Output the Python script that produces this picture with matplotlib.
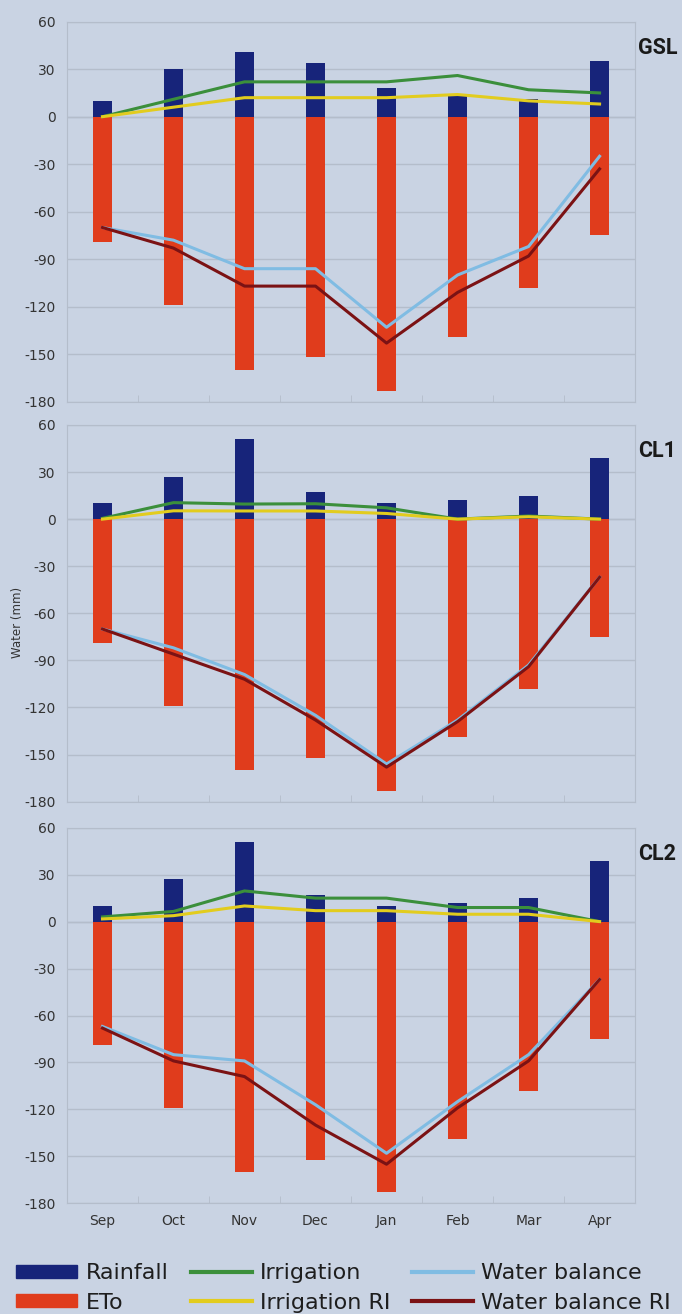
import numpy as np
import matplotlib
matplotlib.use('Agg')
from matplotlib import pyplot as plt
from matplotlib.patches import Patch
from matplotlib.lines import Line2D

months = ['Sep', 'Oct', 'Nov', 'Dec', 'Jan', 'Feb', 'Mar', 'Apr']
sites = ['GSL', 'CL1', 'CL2']

# ETo is the same at every site (drawn below zero)
eto = [-79, -119, -160, -152, -173, -139, -108, -75]

rain_gsl = [10, 30, 41, 34, 18, 13, 11, 35]
rain_cl = [10, 27, 51, 17, 10, 12, 15, 39]

irr_gsl = [0, 11, 22, 22, 22, 26, 17, 15]
irr_cl1 = [0.5, 10.5, 9.6, 9.8, 7.2, 0, 2, 0]
irr_cl2 = [3, 6.5, 19.6, 15, 15, 9, 9, 0]

irr_ri_gsl = [0, 6, 12, 12, 12, 14, 10, 8]
irr_ri_cl1 = [0, 5.3, 5.2, 5.2, 3.6, 0, 1.5, 0]
irr_ri_cl2 = [1.7, 3.8, 10, 7, 7, 4.7, 4.7, 0]

wb_gsl = [-70, -78, -96, -96, -133, -100, -82, -25]
wb_cl1 = [-70, -82, -99, -125, -156, -128, -93, -37]
wb_cl2 = [-67, -85, -89, -117, -148, -115, -85, -37]

wb_ri_gsl = [-70, -83, -107, -107, -143, -111, -88, -33]
wb_ri_cl1 = [-70, -86, -102, -128, -158, -129, -94, -37]
wb_ri_cl2 = [-68, -89, -99, -130, -155, -119, -89, -37]

rain = [rain_gsl, rain_cl, rain_cl]
irr = [irr_gsl, irr_cl1, irr_cl2]
irr_ri = [irr_ri_gsl, irr_ri_cl1, irr_ri_cl2]
wb = [wb_gsl, wb_cl1, wb_cl2]
wb_ri = [wb_ri_gsl, wb_ri_cl1, wb_ri_cl2]

bg = '#c9d3e3'
c_rain = '#17247a'
c_eto = '#e03c1c'
c_irr = '#3b8f3b'
c_irr_ri = '#e2cc1e'
c_wb = '#80bce3'
c_wb_ri = '#7b1214'
grid_c = '#b4bdcb'
txt_c = '#333333'

plt.rcParams['font.family'] = ['DejaVu Sans']
plt.rcParams['axes.unicode_minus'] = False

fig = plt.figure(figsize=(6.82, 13.14), dpi=100, facecolor=bg)

# axes boxes: left, bottom, width, height in figure fractions
boxes = [(0.0982, 0.6943, 0.833, 0.2892),
         (0.0982, 0.3899, 0.833, 0.2867),
         (0.0982, 0.0842, 0.833, 0.2859)]

x = np.arange(len(months))
bw = 0.26

for i, box in enumerate(boxes):
    ax = fig.add_axes(box)
    ax.set_facecolor(bg)
    ax.set_xlim(-0.5, len(months) - 0.5)
    ax.set_ylim(-180, 60)
    ax.set_yticks(np.arange(-180, 61, 30))
    ax.yaxis.grid(True, color=grid_c, linewidth=1.0)
    ax.set_axisbelow(True)
    for s in ax.spines.values():
        s.set_color(grid_c)
        s.set_linewidth(0.8)
    ax.axhline(0, color=grid_c, linewidth=1.0, zorder=0.5)

    ax.bar(x, rain[i], width=bw, color=c_rain, zorder=2)
    ax.bar(x, eto, width=bw, color=c_eto, zorder=2)
    ax.plot(x, irr[i], color=c_irr, linewidth=2.2, zorder=3)
    ax.plot(x, irr_ri[i], color=c_irr_ri, linewidth=2.2, zorder=3)
    ax.plot(x, wb[i], color=c_wb, linewidth=2.2, zorder=3)
    ax.plot(x, wb_ri[i], color=c_wb_ri, linewidth=2.2, zorder=3)

    ax.tick_params(axis='y', length=0, pad=8, labelsize=10, labelcolor=txt_c)
    ax.set_xticks(np.arange(len(months) + 1) - 0.5, minor=True)
    ax.tick_params(axis='x', which='minor', length=5, color=grid_c, direction='in')
    ax.set_xticks(x)
    if i == 2:
        ax.set_xticklabels(months)
        ax.tick_params(axis='x', which='major', length=0, pad=8,
                       labelsize=10, labelcolor=txt_c)
    else:
        ax.set_xticklabels([])
        ax.tick_params(axis='x', which='major', length=0)

    ax.text(1.006, 0.93, sites[i], transform=ax.transAxes, ha='left',
            va='center', fontsize=15.5, fontweight='bold', color='#1a1a1a',
            family=['Roboto', 'DejaVu Sans'])

fig.text(0.026, 0.526, 'Water (mm)', rotation=90, ha='center', va='center',
         fontsize=8.5, color=txt_c)

handles = [Patch(color=c_rain), Patch(color=c_eto),
           Line2D([], [], color=c_irr, linewidth=3),
           Line2D([], [], color=c_irr_ri, linewidth=3),
           Line2D([], [], color=c_wb, linewidth=3),
           Line2D([], [], color=c_wb_ri, linewidth=3)]
labels = ['Rainfall', 'ETo', 'Irrigation', 'Irrigation RI',
          'Water balance', 'Water balance RI']
fig.legend(handles, labels, ncol=3, loc='lower left',
           bbox_to_anchor=(0.024, 0.001), frameon=False, fontsize=16,
           handlelength=2.75, handleheight=0.54, handletextpad=0.36,
           columnspacing=1.0, labelspacing=0.42, labelcolor='#1e1e1e',
           borderpad=0, borderaxespad=0)

fig.savefig('out.png', dpi=100, facecolor=bg)
